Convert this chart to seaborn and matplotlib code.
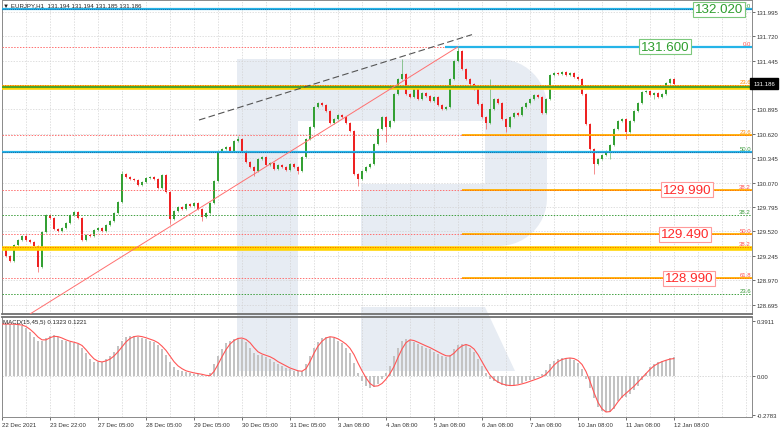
import numpy as np
import pandas as pd
import seaborn as sns
import matplotlib.pyplot as plt
from matplotlib.patches import Polygon

open_first = 129.320
closes = [
    129.345, 129.243, 129.187, 129.367, 129.424, 129.469, 129.424, 129.401, 129.356, 129.120,
    129.514, 129.705, 129.671, 129.548, 129.525, 129.559, 129.615, 129.705, 129.739, 129.671,
    129.424, 129.480, 129.469, 129.536, 129.559, 129.525, 129.593, 129.638, 129.728, 129.852,
    130.167, 130.133, 130.111, 130.099, 130.043, 130.077, 130.122, 130.133, 130.111, 130.009,
    130.156, 129.964, 129.660, 129.750, 129.795, 129.773, 129.829, 129.807, 129.840, 129.773,
    129.683, 129.728, 129.840, 130.088, 130.426, 130.449, 130.471, 130.426, 130.539, 130.561,
    130.426, 130.302, 130.246, 130.201, 130.336, 130.358, 130.268, 130.291, 130.223, 130.268,
    130.246, 130.212, 130.280, 130.246, 130.201, 130.358, 130.561, 130.696, 130.922, 130.967,
    130.944, 130.877, 130.741, 130.786, 130.832, 130.809, 130.741, 130.651, 130.167, 130.111,
    130.201, 130.246, 130.280, 130.505, 130.674, 130.809, 130.696, 130.764, 131.068, 131.237,
    131.293, 131.068, 131.034, 131.124, 131.012, 131.079, 131.046, 130.989, 131.034, 130.944,
    130.899, 130.922, 131.237, 131.440, 131.552, 131.350, 131.237, 131.181, 131.124, 130.955,
    130.809, 130.741, 130.899, 131.012, 130.967, 130.786, 130.696, 130.809, 130.854, 130.832,
    130.922, 130.967, 131.012, 131.057, 131.034, 130.854, 131.012, 131.282, 131.305, 131.293,
    131.316, 131.282, 131.305, 131.260, 131.237, 131.068, 130.730, 130.449, 130.280, 130.336,
    130.381, 130.426, 130.494, 130.674, 130.764, 130.786, 130.640, 130.764, 130.877, 130.967,
    131.091, 131.102, 131.057, 131.079, 131.034, 131.068, 131.192, 131.237, 131.186,
]
wick = 0.012
# (upper wick, lower wick) where the picture shows long shadows
tall_wicks = {9: (0.012, 0.057), 30: (0.03, 0.012), 42: (0.012, 0.055), 50: (0.012, 0.045),
              59: (0.035, 0.012), 63: (0.012, 0.055), 74: (0.012, 0.035), 89: (0.012, 0.08),
              96: (0.012, 0.17), 100: (0.17, 0.012), 114: (0.048, 0.012), 121: (0.012, 0.07),
              122: (0.34, 0.012), 126: (0.012, 0.055), 148: (0.012, 0.11), 152: (0.012, 0.09),
              156: (0.012, 0.08), 163: (0.012, 0.05)}

macd_hist = [
    0.367, 0.368, 0.366, 0.364, 0.362, 0.355, 0.34, 0.31, 0.275, 0.25,
    0.245, 0.27, 0.285, 0.288, 0.275, 0.255, 0.245, 0.24, 0.235, 0.228,
    0.2, 0.16, 0.12, 0.1, 0.095, 0.1, 0.12, 0.14, 0.17, 0.21,
    0.25, 0.275, 0.285, 0.283, 0.278, 0.27, 0.26, 0.25, 0.24, 0.22,
    0.19, 0.15, 0.1, 0.06, 0.04, 0.03, 0.025, 0.02, 0.015, 0.012,
    0.005, -0.005, 0.02, 0.08, 0.14, 0.19, 0.23, 0.25, 0.262, 0.268,
    0.262, 0.24, 0.2, 0.16, 0.15, 0.15, 0.13, 0.12, 0.1, 0.085,
    0.07, 0.055, 0.045, 0.035, 0.03, 0.035, 0.08, 0.14, 0.2, 0.24,
    0.265, 0.275, 0.275, 0.265, 0.25, 0.23, 0.2, 0.16, 0.09, 0.02,
    -0.04, -0.07, -0.085, -0.08, -0.06, -0.02, 0.02, 0.07, 0.14, 0.2,
    0.245, 0.262, 0.255, 0.24, 0.225, 0.21, 0.2, 0.19, 0.17, 0.155,
    0.14, 0.13, 0.15, 0.19, 0.215, 0.225, 0.22, 0.2, 0.17, 0.12,
    0.07, 0.02, -0.02, -0.04, -0.055, -0.065, -0.07, -0.07, -0.065, -0.06,
    -0.05, -0.04, -0.03, -0.02, -0.01, 0.01, 0.04, 0.08, 0.105, 0.12,
    0.125, 0.127, 0.125, 0.115, 0.09, 0.05, -0.02, -0.09, -0.16, -0.22,
    -0.25, -0.26, -0.255, -0.235, -0.18, -0.16, -0.15, -0.13, -0.1, -0.07,
    -0.03, 0.02, 0.06, 0.08, 0.095, 0.105, 0.115, 0.125, 0.132,
]
macd_signal = [
    0.367, 0.367, 0.367, 0.366, 0.364, 0.36, 0.35, 0.33, 0.305, 0.275,
    0.255, 0.255, 0.27, 0.28, 0.278, 0.268, 0.255, 0.245, 0.238, 0.23,
    0.215, 0.185, 0.15, 0.12, 0.103, 0.098, 0.105, 0.118, 0.14, 0.17,
    0.205, 0.24, 0.265, 0.278, 0.282, 0.278, 0.27, 0.26, 0.25, 0.235,
    0.21, 0.18, 0.14, 0.1, 0.07, 0.05, 0.035, 0.027, 0.02, 0.015,
    0.01, 0.003, 0.0, 0.03, 0.08, 0.135, 0.185, 0.225, 0.25, 0.265,
    0.268, 0.258, 0.235, 0.2, 0.17, 0.155, 0.145, 0.135, 0.12, 0.1,
    0.085, 0.07, 0.055, 0.045, 0.035, 0.032, 0.05, 0.1, 0.16, 0.21,
    0.245, 0.268, 0.277, 0.273, 0.262, 0.245, 0.225, 0.195, 0.15, 0.09,
    0.035, -0.015, -0.055, -0.075, -0.072, -0.055, -0.025, 0.015, 0.065, 0.13,
    0.19, 0.235, 0.255, 0.25, 0.238, 0.225, 0.212, 0.2, 0.185, 0.17,
    0.155, 0.142, 0.14, 0.16, 0.19, 0.212, 0.222, 0.212, 0.19, 0.15,
    0.1, 0.05, 0.005, -0.025, -0.045, -0.058, -0.066, -0.07, -0.069, -0.065,
    -0.058, -0.05, -0.04, -0.03, -0.02, -0.008, 0.01, 0.04, 0.075, 0.1,
    0.115, 0.123, 0.126, 0.122, 0.108, 0.08, 0.03, -0.04, -0.12, -0.19,
    -0.235, -0.258, -0.255, -0.225, -0.185, -0.15, -0.125, -0.1, -0.075, -0.045,
    -0.015, 0.015, 0.045, 0.07, 0.087, 0.1, 0.11, 0.118, 0.122,
]

date_labels = ['22 Dec 2021', '23 Dec 22:00', '27 Dec 05:00', '28 Dec 05:00', '29 Dec 05:00',
               '30 Dec 05:00', '31 Dec 05:00', '3 Jan 08:00', '4 Jan 08:00', '5 Jan 08:00',
               '6 Jan 08:00', '7 Jan 08:00', '10 Jan 08:00', '11 Jan 08:00', '12 Jan 08:00']
price_ticks = [128.695, 128.970, 129.245, 129.520, 129.795, 130.070, 130.345,
               130.620, 130.895, 131.445, 131.720, 131.995]
grid_prices = price_ticks + [131.170]
last_price = 131.186
macd_ticks = [-0.2783, 0.0, 0.3911]
macd_tick_labels = ['-0.2783', '0.00', '0.3911']

# levels drawn on the chart
blue_full = [132.020, 130.418]
blue_part = [131.600]
red_dotted = [131.600, 130.605, 129.990, 129.490, 128.990]
green_dotted = [129.705, 128.816]
orange_part = [130.605, 129.990, 129.490, 128.990]
gold_bands = [131.144, 129.330]
gold_band_tops = [131.169, 129.345]
green_solid = [131.144]
price_boxes = [132.020, 131.600, 129.990, 129.490, 128.990]
box_colors = ['green', 'green', 'red', 'red', 'red']
box_hours = [358.5, 331.5, 342.5, 341.5, 343.5]
fib_tags = ['6.0', '0.0', '23.6', '23.6', '50.0', '38.2', '38.2', '50.0', '38.2', '61.8', '23.6']
fib_tag_prices = [132.020, 131.600, 131.169, 130.605, 130.418, 129.990, 129.705, 129.490,
                  129.345, 128.990, 128.816]
fib_tag_colors = ['g', 'r', 'o', 'o', 'g', 'r', 'g', 'r', 'r', 'r', 'g']
red_trend_h = [14, 228]
red_trend_p = [128.590, 131.600]
dash_trend_h = [98.5, 235]
dash_trend_p = [130.775, 131.737]

sns.set_theme(style='white')
plt.rcParams['font.family'] = ['Liberation Sans', 'DejaVu Sans']

W, H = 782, 431
fig = plt.figure(figsize=(W / 100, H / 100), dpi=100)
fig.patch.set_facecolor('white')


def frect(x0, y0, x1, y1):
    return [x0 / W, 1 - y1 / H, (x1 - x0) / W, (y1 - y0) / H]


def fpts(pts):
    return [(x / W, 1 - y / H) for x, y in pts]


def arc(cx, cy, r, a0, a1, n=14):
    t = np.radians(np.linspace(a0, a1, n))
    return list(zip(cx + r * np.cos(t), cy + r * np.sin(t)))


# watermark logo behind both panels
wm = '#e7ecf3'
logo = [
    [(237, 60), (298, 60), (298, 372), (237, 372)],
    [(298, 60)] + arc(499, 108, 48, -90, 0) + arc(499, 199, 48, 0, 90)
    + [(361, 247), (361, 185), (485, 185), (485, 122), (298, 122)],
    [(361, 308), (485, 308), (515, 372), (361, 372)],
]
for pts in logo:
    fig.add_artist(Polygon(fpts(pts), closed=True, transform=fig.transFigure,
                           fc=wm, ec='none', zorder=-5))

ax = fig.add_axes(frect(2, 1, 752, 315))
ax2 = fig.add_axes(frect(2, 318, 752, 418))
for a in (ax, ax2):
    a.set_facecolor('none')
    a.set_xlim(0, 375)
    for s in a.spines.values():
        s.set_color('#8a8a8a')
        s.set_linewidth(0.7)
    for hh in range(0, 376, 12):
        a.axvline(hh, color='#d2d2d2', lw=0.5, ls=(0, (2, 2)), zorder=0)
ax.spines['bottom'].set_linewidth(1.3)
ax.spines['bottom'].set_color('#707070')
ax2.spines['top'].set_linewidth(1.3)
ax2.spines['top'].set_color('#707070')

ax.set_ylim(128.590, 132.127)
ax2.set_ylim(-0.2935, 0.4174)

# candles
hours = np.arange(len(closes)) * 2
opens = [open_first] + closes[:-1]
rows = []
for i, (o, c) in enumerate(zip(opens, closes)):
    up, dn = tall_wicks.get(i, (wick, wick))
    rows.append((hours[i], o, max(o, c) + up, min(o, c) - dn, c))
df = pd.DataFrame(rows, columns=['h', 'open', 'high', 'low', 'close'])
bull = df['close'] >= df['open']
col = np.where(bull, '#34a034', '#ee2222')
ax.vlines(df['h'], df['low'], df['high'], colors=col, lw=0.6, alpha=0.6, zorder=2)
body = (df['close'] - df['open']).abs().clip(lower=0.004)
ax.bar(df['h'], body, bottom=df[['open', 'close']].min(axis=1), width=1.4,
       color=col, lw=0, zorder=2)

# grid on price ticks
for p in grid_prices:
    ax.axhline(p, color='#d2d2d2', lw=0.5, ls=(0, (2, 2)), zorder=0)

# levels
for p in red_dotted:
    ax.axhline(p, color='#ff7070', lw=0.7, ls=(0, (1.5, 1.5)), zorder=3)
for p in green_dotted:
    ax.axhline(p, color='#40a040', lw=0.7, ls=(0, (1.5, 1.5)), zorder=3)
for p in orange_part:
    ax.hlines(p, 230, 375, color='#ffb000', lw=1.3, zorder=3)
    ax.hlines(p, 230, 375, color='#ff6a00', lw=0.6, ls=(0, (1.5, 1.5)), zorder=3)
for p in blue_full:
    ax.axhline(p, color='#25b4e8', lw=1.6, zorder=3)
    ax.axhline(p, color='#1d4f8a', lw=0.5, ls=(0, (1.5, 1.5)), zorder=3)
for p in blue_part:
    ax.hlines(p, 221.5, 375, color='#25b4e8', lw=1.6, zorder=3)
for p, t in zip(gold_bands, gold_band_tops):
    ax.axhline(p, color='#ffd400', lw=3.3, zorder=3)
    ax.axhline(t, color='#ff5a00', lw=0.6, ls=(0, (1.5, 1.5)), zorder=3)
for p in green_solid:
    ax.axhline(p, color='#2f9a2f', lw=1.2, zorder=3)

sns.lineplot(x=red_trend_h, y=red_trend_p, ax=ax, color='#ff7070', lw=0.7, zorder=3)
sns.lineplot(x=dash_trend_h, y=dash_trend_p, ax=ax, color='#555555', lw=0.8,
             zorder=3).lines[-1].set_linestyle((0, (6, 3)))

tag_col = {'g': '#3a9a3a', 'r': '#ff5050', 'o': '#ff8c00'}
for t, p, c in zip(fib_tags, fib_tag_prices, fib_tag_colors):
    ax.text(374.5, p + 0.012, t, fontsize=4.3, color=tag_col[c], ha='right', va='bottom', zorder=4)

box_col = {'green': ('#2e9e2e', '#7cc87c'), 'red': ('#ff2a2a', '#ff9a9a')}
for p, c, hh in zip(price_boxes, box_colors, box_hours):
    fc, ec = box_col[c]
    ax.text(hh, p, f'{p:.3f}', fontsize=9.6, color=fc, ha='center', va='center', zorder=6,
            bbox=dict(boxstyle='square,pad=0.12', fc='white', ec=ec, lw=0.8))

# axis ticks
ax.set_xticks([])
ax.yaxis.tick_right()
ax.set_yticks(price_ticks)
ax.set_yticklabels([f'{p:.3f}' for p in price_ticks])
ax.tick_params(axis='y', right=True, left=False, labelsize=4.3, length=2, width=0.5,
               pad=1.5, colors='#333333')
ax.text(1.0015, last_price, f'{last_price:.3f}', transform=ax.get_yaxis_transform(),
        fontsize=4.3, color='white', ha='left', va='center', zorder=6,
        bbox=dict(boxstyle='square,pad=0.45', fc='black', ec='black'))

# MACD panel
ax2.bar(hours, macd_hist, width=1.1, color='#c3c3c3', lw=0, zorder=1)
ax2.axhline(0, color='#c8c8c8', lw=0.5, ls=(0, (2, 2)), zorder=0)
sns.lineplot(x=hours, y=macd_signal, ax=ax2, color='#ff5555', lw=0.8, zorder=3)
ax2.yaxis.tick_right()
ax2.set_yticks(macd_ticks)
ax2.set_yticklabels(macd_tick_labels)
ax2.tick_params(axis='y', right=True, left=False, labelsize=4.3, length=2, width=0.5,
                pad=1.5, colors='#333333')
ax2.set_xticks(np.arange(len(date_labels)) * 24)
ax2.set_xticklabels(date_labels, ha='left')
ax2.tick_params(axis='x', bottom=True, labelsize=4.3, length=2, width=0.5, pad=1.5,
                colors='#333333')
for a in (ax, ax2):
    a.set_xlabel('')
    a.set_ylabel('')

fig.text(3 / W, 1 - 6 / H, '\u25bc EURJPY,H1  131.194 131.194 131.185 131.186', fontsize=4.4,
         color='#222222', va='center', ha='left')
fig.text(3 / W, 1 - 323 / H, 'MACD(15,45,5) 0.1323 0.1221', fontsize=4.4,
         color='#222222', va='center', ha='left')

fig.savefig('out.png', dpi=100)
